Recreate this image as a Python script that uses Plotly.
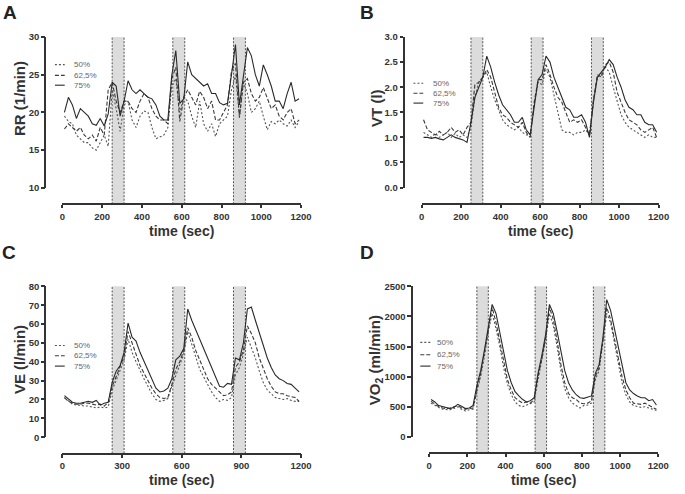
import plotly.graph_objects as go

# ---------------- data ----------------
time = [10, 30, 50, 70, 90, 110, 130, 150, 170, 190,
        210, 230, 250, 270, 290, 310, 330, 350, 370, 390,
        410, 430, 450, 470, 490, 510, 530, 550, 570, 590,
        610, 630, 650, 670, 690, 710, 730, 750, 770, 790,
        810, 830, 850, 870, 890, 910, 930, 950, 970, 990,
        1010, 1030, 1050, 1070, 1090, 1110, 1130, 1150, 1170, 1190]

series_names = ["50%", "62,5%", "75%"]
bands = [(250, 310), (555, 615), (860, 920)]

rr_50 = [19.5, 18.8, 18.5, 17, 16.5, 16, 16, 15.3, 15, 16,
         17, 15.5, 23, 20.5, 17.5, 21, 21.5, 19, 18, 19.5,
         20.2, 20, 18, 16.5, 16.7, 17, 18, 23.5, 24.5, 20,
         22, 21.5, 19.5, 18, 21.5, 18.5, 17.5, 18.5, 16.8, 18.5,
         19, 19.5, 23, 25, 19.5, 24, 22.5, 20, 20.5, 21.5,
         19.5, 17.7, 18.8, 18.5, 19, 18.5, 18.2, 19, 18, 18.8]
rr_625 = [17.8, 18.5, 18, 17.5, 18, 17, 16.5, 17, 16.2, 18,
          17, 23, 24, 21.5, 20, 21.5, 21.5, 20.5, 20, 21.5,
          22.5, 22, 20.5, 19.5, 19, 19, 18.5, 24.5, 26, 18.8,
          22, 23, 22, 21, 22.8, 22, 20.5, 21.5, 19, 19,
          20, 21, 25.5, 26.5, 19.3, 24, 24.5, 22.5, 21.5, 22,
          23.3, 22, 20.5, 21, 19.5, 19, 20, 20.5, 18.5, 19]
rr_75 = [20, 22, 21, 19.2, 20.5, 20, 19.5, 18.5, 18.3, 19.2,
         18.2, 19.8, 24, 23.5, 19.5, 21.5, 24.2, 23, 22.5, 23,
         22.5, 22, 21.8, 21, 19.5, 19, 19, 25, 28.2, 21.2,
         21.8, 26.7, 25, 24.5, 24, 23.5, 23.8, 22.5, 22.5, 21.3,
         21, 21.2, 25, 29, 21, 24.5, 28.6, 27.5, 25, 23.5,
         26.3, 25, 23.5, 21.5, 21.5, 20.5, 22.5, 24, 21.5, 21.8]

vt_50 = [1.1, 1.05, 1.0, 1.08, 1.0, 1.05, 1.1, 1.0, 1.08, 1.0,
         1.05, 1.0, 1.2, 1.8, 2.1, 2.2, 2.3, 2.0, 1.75, 1.55,
         1.35, 1.25, 1.2, 1.15, 1.2, 1.1, 1.05, 1.05, 1.65, 2.1,
         2.05, 2.35, 2.2, 1.85, 1.5, 1.15, 1.1, 1.1, 1.05, 1.1,
         1.1, 1.15, 1.05, 1.7, 2.2, 2.25, 2.4, 2.3, 2.0, 1.7,
         1.45, 1.3, 1.2, 1.15, 1.1, 1.05, 1.0, 1.05, 1.0, 1.0]
vt_625 = [1.35, 1.15, 1.1, 1.05, 1.12, 1.05, 1.1, 1.2, 1.1, 1.15,
          1.05, 1.2, 1.3, 2.05, 2.1, 2.2, 2.35, 2.2, 1.9, 1.6,
          1.45, 1.4, 1.3, 1.25, 1.2, 1.3, 1.1, 1.0, 1.7, 2.15,
          2.15, 2.45, 2.25, 2.0, 1.8, 1.7, 1.5, 1.3, 1.35, 1.3,
          1.35, 1.2, 1.05, 1.75, 2.25, 2.2, 2.45, 2.5, 2.3, 1.9,
          1.7, 1.5, 1.35, 1.3, 1.25, 1.15, 1.1, 1.15, 1.2, 1.0]
vt_75 = [1.0, 1.0, 0.98, 1.0, 0.97, 0.95, 1.0, 1.05, 1.0, 0.98,
         0.95, 0.9, 1.3, 1.8, 2.0, 2.2, 2.62, 2.4, 2.1, 1.85,
         1.65, 1.55, 1.45, 1.3, 1.3, 1.4, 1.15, 1.05, 1.6, 2.15,
         2.25, 2.62, 2.5, 2.2, 2.0, 1.8, 1.6, 1.55, 1.4, 1.4,
         1.45, 1.3, 1.0, 1.7, 2.2, 2.3, 2.4, 2.55, 2.45, 2.2,
         2.0, 1.75, 1.6, 1.55, 1.45, 1.45, 1.3, 1.25, 1.25, 1.1]

ve_50 = [21, 19, 17.5, 17, 17, 16.5, 16.5, 16, 15.5, 16,
         15.5, 16, 25, 30, 35, 41, 52, 45, 40, 35,
         31, 27, 23, 20, 19, 19.5, 20.5, 27, 33, 38,
         44, 56, 49, 42, 36, 32, 28, 24, 21, 19,
         20, 19.5, 21, 33, 37, 44, 53, 48, 42, 35,
         29, 25, 23, 21, 20.5, 20, 20.5, 19.5, 19, 19]
ve_625 = [21, 19, 18, 17.5, 17.5, 18, 18, 17.5, 17, 17.5,
          16.5, 18.5, 27, 32, 37, 43, 56, 50, 43, 38,
          34, 30, 26, 23, 21, 20.5, 21, 28, 36, 40,
          46, 58, 53, 46, 41, 36, 31, 28, 26, 24,
          22, 22.5, 24, 37, 40, 46, 59, 55, 50, 42,
          36, 31, 27, 24, 23, 23, 22, 21.5, 21, 19]
ve_75 = [22, 20, 18.5, 18, 18, 18.5, 19, 18.5, 19.5, 17,
         18, 18.5, 29, 35, 38, 45, 60.5, 53, 51, 45,
         40, 35, 30, 26, 24, 24.5, 26, 31, 41, 43,
         47, 68, 62, 57, 51, 46, 41, 36, 31, 27,
         26.5, 28.5, 28, 42, 41, 50, 68, 69, 62, 55,
         48, 42, 37, 33, 31, 30, 28.5, 28, 26, 24]

vo2_50 = [560, 520, 490, 460, 460, 450, 470, 500, 460, 430,
          450, 460, 750, 1000, 1350, 1750, 2050, 1800, 1500, 1150,
          880, 700, 580, 520, 500, 530, 550, 580, 950, 1250,
          1600, 2050, 1850, 1500, 1100, 800, 650, 560, 520, 480,
          520, 530, 560, 950, 1100, 1550, 2050, 1900, 1550, 1200,
          900, 700, 580, 520, 500, 490, 500, 480, 470, 440]
vo2_625 = [590, 540, 500, 480, 470, 480, 500, 520, 480, 460,
           470, 480, 800, 1050, 1400, 1800, 2150, 1900, 1600, 1250,
           950, 780, 650, 600, 560, 580, 560, 620, 1000, 1300,
           1650, 2150, 1950, 1600, 1200, 900, 720, 650, 620, 560,
           550, 560, 600, 1000, 1150, 1600, 2150, 1950, 1650, 1300,
           1000, 780, 650, 560, 550, 540, 560, 520, 490, 460]
vo2_75 = [620, 580, 520, 500, 480, 470, 490, 540, 510, 470,
          480, 520, 850, 1100, 1450, 1850, 2200, 2050, 1750, 1400,
          1100, 900, 750, 680, 620, 580, 600, 650, 1050, 1350,
          1700, 2200, 2050, 1750, 1400, 1100, 900, 780, 700, 650,
          640, 660, 680, 1050, 1200, 1650, 2280, 2100, 1800, 1450,
          1150, 900, 780, 720, 680, 650, 650, 600, 620, 530]

# ---------------- styling / layout ----------------
W, H = 685, 494
FONT = "Liberation Sans, Arial, sans-serif"
AX = "#333333"
dashes = ["2px,2px", "4px,2px", "solid"]
line_colors = ["#555555", "#3a3a3a", "#2a2a2a"]


def px(x):
    return x / W


def py(y):
    return 1 - y / H


# panel geometry in pixels
panels = [
    dict(letter="A", data=[rr_50, rr_625, rr_75], title="RR (1/min)",
         yrange=[10, 30], ytick=5, yfmt="d", xtick=200,
         x0=60.7, x1=304.3, xaxis_y=202.7, ytop=31.7, ybot=186.0, yaxis_x=43.3,
         ytitle_xy=(17.5, 95), letter_xy=(7, 7),
         leg_line=(53, 63), leg_text=70, leg_rows=(60, 71, 81)),
    dict(letter="B", data=[vt_50, vt_625, vt_75], title="VT (l)",
         yrange=[0, 3], ytick=0.5, yfmt=".1f", xtick=200,
         x0=427.3, x1=669.3, xaxis_y=202.7, ytop=31.7, ybot=185.7, yaxis_x=409.3,
         ytitle_xy=(381, 104), letter_xy=(372, 7),
         leg_line=(419, 429), leg_text=436.5, leg_rows=(79, 89.3, 99.3)),
    dict(letter="C", data=[ve_50, ve_625, ve_75], title="VE (l/min)",
         yrange=[0, 80], ytick=10, yfmt="d", xtick=300,
         x0=60.7, x1=304.3, xaxis_y=457.7, ytop=286.7, ybot=441.0, yaxis_x=43.3,
         ytitle_xy=(17.5, 362), letter_xy=(6, 252),
         leg_line=(53, 63), leg_text=70, leg_rows=(347.3, 357.7, 368.3)),
    dict(letter="D", data=[vo2_50, vo2_625, vo2_75], title="VO<sub>2</sub> (ml/min)",
         yrange=[0, 2500], ytick=500, yfmt="d", xtick=200,
         x0=435.0, x1=669.0, xaxis_y=457.3, ytop=286.7, ybot=440.7, yaxis_x=417.3,
         ytitle_xy=(381, 362), letter_xy=(372, 252),
         leg_line=(426, 436.5), leg_text=441.5, leg_rows=(344, 356.7, 368.3)),
]

fig = go.Figure()
shapes = []
annotations = []
layout = {}

for i, p in enumerate(panels):
    n = "" if i == 0 else str(i + 1)
    xa, ya = "x" + n, "y" + n
    for j, (vals, name) in enumerate(zip(p["data"], series_names)):
        fig.add_trace(go.Scatter(
            x=time, y=vals, mode="lines", name=name, showlegend=False,
            xaxis=xa, yaxis=ya,
            line=dict(color=line_colors[j], width=1.1, dash=dashes[j]),
        ))

    layout["xaxis" + n] = dict(
        domain=[px(p["x0"]), px(p["x1"])], range=[0, 1200],
        anchor="free", position=py(p["xaxis_y"]),
        tickmode="linear", tick0=0, dtick=p["xtick"],
        showline=True, linecolor=AX, linewidth=1.6,
        ticks="outside", ticklen=3.5, tickwidth=1.5, tickcolor=AX,
        showgrid=False, zeroline=False,
        tickfont=dict(family=FONT, size=9.5, color=AX, weight="bold"),
    )
    layout["yaxis" + n] = dict(
        domain=[py(p["ybot"]), py(p["ytop"])], range=p["yrange"],
        anchor="free", position=px(p["yaxis_x"]),
        tickmode="linear", tick0=p["yrange"][0], dtick=p["ytick"],
        tickformat=p["yfmt"],
        showline=True, linecolor=AX, linewidth=1.6,
        ticks="outside", ticklen=3.5, tickwidth=1.5, tickcolor=AX,
        showgrid=False, zeroline=False,
        tickfont=dict(family=FONT, size=9.5, color=AX, weight="bold"),
    )

    # shaded exercise bands: from top of y-axis down to the x-axis line
    gap = (p["xaxis_y"] - p["ybot"]) / (p["ybot"] - p["ytop"])
    for (b0, b1) in bands:
        shapes.append(dict(type="rect", xref=xa, yref=ya + " domain",
                           x0=b0, x1=b1, y0=-gap, y1=1,
                           fillcolor="#dcdcdc", line=dict(width=0), layer="below"))
        for bx in (b0, b1):
            shapes.append(dict(type="line", xref=xa, yref=ya + " domain",
                               x0=bx, x1=bx, y0=-gap, y1=1,
                               line=dict(color="#555555", width=1, dash="2px,1.5px"),
                               layer="below"))

    # axis titles
    annotations.append(dict(
        text="time (sec)", xref="paper", yref="paper",
        x=px((p["x0"] + p["x1"]) / 2), y=py(p["xaxis_y"] + 27.5),
        xanchor="center", yanchor="middle", showarrow=False,
        font=dict(family=FONT, size=14, color=AX, weight="bold")))
    annotations.append(dict(
        text=p["title"], xref="paper", yref="paper", textangle=-90,
        x=px(p["ytitle_xy"][0]), y=py(p["ytitle_xy"][1]),
        xanchor="center", yanchor="middle", showarrow=False,
        font=dict(family=FONT, size=15, color=AX, weight="bold")))
    # panel letter
    annotations.append(dict(
        text=p["letter"], xref="paper", yref="paper",
        x=px(p["letter_xy"][0]), y=py(p["letter_xy"][1]),
        xanchor="center", yanchor="middle", showarrow=False,
        font=dict(family=FONT, size=19, color="#222222", weight="bold")))

    # legend (drawn per panel)
    for j, name in enumerate(series_names):
        ry = py(p["leg_rows"][j])
        shapes.append(dict(type="line", xref="paper", yref="paper",
                           x0=px(p["leg_line"][0]), x1=px(p["leg_line"][1]),
                           y0=ry, y1=ry,
                           line=dict(color=line_colors[j], width=1.1, dash=dashes[j])))
        annotations.append(dict(
            text=name, xref="paper", yref="paper",
            x=px(p["leg_text"]), y=ry, xanchor="left", yanchor="middle",
            showarrow=False, font=dict(family=FONT, size=8, color="#666666")))

fig.update_layout(
    width=W, height=H, autosize=False,
    margin=dict(l=0, r=0, t=0, b=0),
    paper_bgcolor="white", plot_bgcolor="white",
    showlegend=False,
    shapes=shapes, annotations=annotations,
    **layout,
)

fig.write_html(
    "out.html",
    config={"displayModeBar": False},
    post_script="document.body.style.margin='0px';document.body.style.overflow='hidden';",
)
